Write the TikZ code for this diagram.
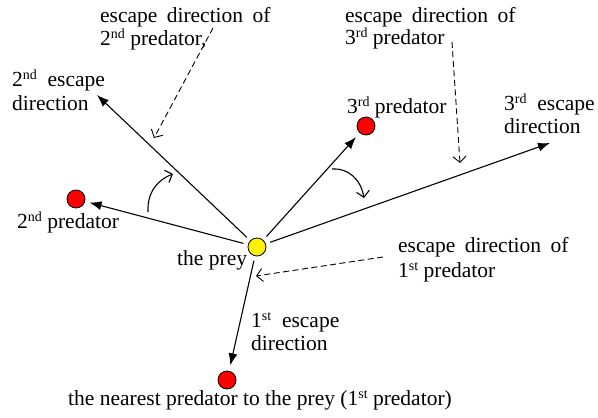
\documentclass[tikz,border=0pt]{standalone}
\usepackage{fontspec}
\setmainfont{Liberation Serif}
\usetikzlibrary{arrows.meta}
\newcommand\myss[1]{\raisebox{7pt}{\fontsize{14}{14}\selectfont #1}}
\newcommand\widesp{\spaceskip=9.3pt\relax}
\begin{document}
\begin{tikzpicture}[x=1pt,y=-1pt,
  lbl/.style={anchor=base west,inner sep=0pt,font=\fontsize{21.5}{24}\selectfont},
  wide/.style={lbl,font=\fontsize{21.5}{24}\selectfont\widesp},
  pred/.style={circle,draw=black,line width=0.8pt,fill=red,minimum size=18pt,inner sep=0pt,outer sep=0pt},
  preyc/.style={circle,draw=black,line width=0.8pt,fill=yellow,minimum size=18pt,inner sep=0pt,outer sep=0pt},
  arr/.style={line width=1.1pt,-{Latex[length=12pt,width=9pt]}},
  darr/.style={line width=0.9pt,dash pattern=on 6pt off 3.5pt,-{Straight Barb[length=6pt,width=13pt,line width=0.9pt]}},
  carr/.style={line width=1.1pt,-{Straight Barb[length=6pt,width=13pt,line width=1.1pt]}}]
\useasboundingbox (0,0) rectangle (598,418);
% circles
\node[preyc] (prey) at (257,247) {};
\node[pred] (p2) at (76,199) {};
\node[pred] (p3) at (366,126) {};
\node[pred] (p1) at (227,380) {};
% free ends
\coordinate (e2) at (97,95);
\coordinate (e3) at (550,143);
% arrows
\draw[arr,shorten <=5pt,shorten >=5pt] (prey) -- (p2);
\draw[arr,shorten <=5pt,shorten >=6pt] (prey) -- (p3);
\draw[arr,shorten <=5pt,shorten >=6pt] (prey) -- (p1);
\draw[arr,shorten <=5pt] (prey) -- (e2);
\draw[arr,shorten <=5pt] (prey) -- (e3);
% angle arcs
\coordinate (a2s) at (148,212);
\coordinate (a2e) at (173,174);
\coordinate (a3s) at (332,169);
\coordinate (a3e) at (364,198);
\draw[carr] (a2s) .. controls (147,193) and (157,180) .. (a2e);
\draw[carr] (a3s) .. controls (349,168) and (361,180) .. (a3e);
% dashed arrows
\coordinate (d2s) at (213,28);
\coordinate (d2e) at (154,138);
\coordinate (d3s) at (452,42);
\coordinate (d3e) at (460,163);
\coordinate (d1s) at (383,257);
\coordinate (d1e) at (256,276);
\draw[darr] (d2s) -- (d2e);
\draw[darr] (d3s) -- (d3e);
\draw[darr] (d1s) -- (d1e);
% labels
\node[wide] (l2a) at (100,22) {escape direction of};
\node[lbl] (l2b) at (100,45) {2\myss{nd} predator,};
\node[wide] (l3a) at (345,22) {escape direction of};
\node[lbl] (l3b) at (345,44) {3\myss{rd} predator};
\node[lbl] (e2a) at (12,86) {2\myss{nd}\ \ escape};
\node[lbl] (e2b) at (12,110) {direction};
\node[lbl] (p3l) at (347,113) {3\myss{rd} predator};
\node[lbl] (e3a) at (504,110) {3\myss{rd}\ \ escape};
\node[lbl] (e3b) at (504,133) {direction};
\node[lbl] (p2l) at (17,228) {2\myss{nd} predator};
\node[lbl] (preyl) at (177,265) {the prey};
\node[wide] (l1a) at (398,252) {escape direction of};
\node[lbl] (l1b) at (398,277) {1\myss{st} predator};
\node[lbl] (e1a) at (251,327) {1\myss{st}\ \ escape};
\node[lbl] (e1b) at (251,350) {direction};
\node[lbl] (p1l) at (68,405) {the nearest predator to the prey (1\myss{st} predator)};
\end{tikzpicture}
\end{document}
